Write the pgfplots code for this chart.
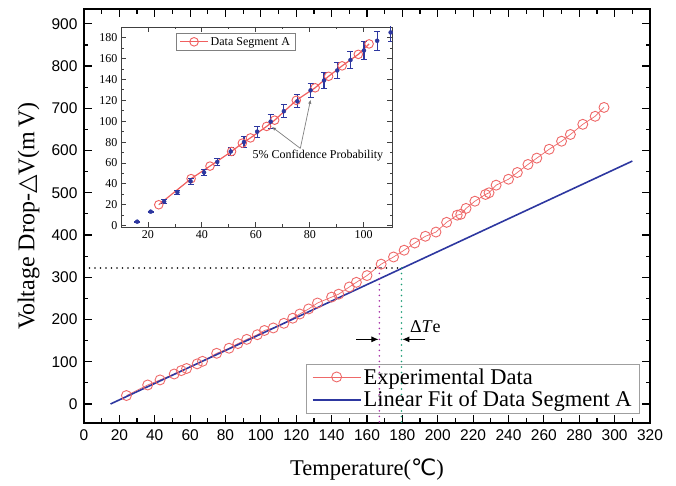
\documentclass[border=0pt]{standalone}
\usepackage{fontspec}
\setmainfont{Liberation Serif}
\newfontfamily\arialfont{Liberation Sans}
\newfontfamily\dejavu{DejaVu Sans}
\usepackage{pgfplots}
\pgfplotsset{compat=1.18}
\usetikzlibrary{arrows.meta}

\definecolor{expred}{RGB}{238,105,105}
\definecolor{fitblue}{RGB}{45,55,160}
\definecolor{dotpurple}{RGB}{165,45,165}
\definecolor{dotteal}{RGB}{25,155,115}

\pgfplotstableread{
x y
24 20
36 45
43 57
51 71
55 79
58 84
64 95
67 101
75 120
82 132
87 143
92 153
98 164
102 174
107 180
113 191
118 203
122 213
127 225
132 239
140 253
144 260
150 277
154 288
160 304
168 331
175 348
181 364
187 381
193 397
199 407
205 430
211 447
213 449
216 463
221 480
227 496
229 500
233 518
240 532
245 548
251 567
256 582
263 603
270 622
275 638
282 662
289 681
294 702
}\expdata

\pgfplotstableread{
x y
24 20
36 45
43 57
51 71
55 79
58 84
64 95
67 101
75 120
82 132
87 143
92 153
98 164
102 174
}\segdata

\pgfplotstableread{
x y e
16 3.8 0.4
21 13.4 0.6
26 23 1.6
30.9 32 2
35.8 42.5 3
40.8 51 3.2
45.7 61 3.5
50.7 71 4
55.6 80 5
60.5 90 5.4
65.5 99.6 6.4
70.4 109.6 6
75.4 119 6.2
80.3 129.5 6.7
85.3 139 7.5
90.2 148.6 7.7
95.1 158.6 8
100.1 167.7 8.5
105 177 9
110 185 9
}\errdata

\begin{document}
\begin{tikzpicture}
\useasboundingbox (-84pt,-63pt) rectangle (592pt,423pt);
\begin{axis}[
  name=main,
  at={(0pt,0pt)}, anchor=south west,
  scale only axis, width=566pt, height=414pt,
  xmin=0, xmax=320, ymin=-45, ymax=935,
  xtick={0,20,...,320}, minor x tick num=1,
  ytick={0,100,...,900}, minor y tick num=1,
  tick align=inside,
  major tick length=8pt, minor tick length=4.5pt,
  axis line style={line width=1.6pt},
  every tick/.style={black, line width=1.2pt},
  tick label style={font=\arialfont\fontsize{15.5}{16}\selectfont},
  /pgf/number format/assume math mode=true,
  /pgf/number format/1000 sep={},
  xticklabel style={yshift=-3pt},
  yticklabel style={xshift=-3pt},
  xlabel={Temperature({\dejavu ℃})},
  ylabel={Voltage Drop-{\dejavu △}V(m\,V)},
  xlabel style={font=\fontsize{22.5}{23}\selectfont, at={(axis description cs:0.5,-0.113)}, anchor=center},
  ylabel style={font=\fontsize{24}{25}\selectfont, at={(axis description cs:-0.098,0.5)}, anchor=center},
  legend style={at={(0.982,0.024)}, anchor=south east, draw=gray!75, fill=none,
    font=\fontsize{22.5}{23}\selectfont, inner xsep=6pt, inner ysep=2.5pt,
    row sep=1.5pt},
  legend cell align=left,
  legend image code/.code={\draw[#1, mark repeat=2, mark phase=2] plot coordinates {(0pt,0pt) (24pt,0pt) (48pt,0pt)};},
]
\addplot[expred, line width=0.7pt, mark=o, mark size=5pt, mark options={line width=0.9pt, fill=white},
  legend image post style={line width=0.8pt}] table[x=x,y=y] {\expdata};
\addlegendentry{Experimental Data}
\addplot[fitblue, line width=1.6pt, legend image post style={line width=1.8pt}] coordinates {(15,0) (310,575)};
\addlegendentry{Linear Fit of Data Segment A}

\draw[black, line width=1.8pt, line cap=round, dash pattern=on 0pt off 5.5pt] (axis cs:0,322) -- (axis cs:179.5,322);
\draw[dotpurple, line width=1.8pt, line cap=round, dash pattern=on 0pt off 5.5pt] (axis cs:167,322) -- (axis cs:167,-45);
\draw[dotteal, line width=1.8pt, line cap=round, dash pattern=on 0pt off 5.5pt] (axis cs:179.5,322) -- (axis cs:179.5,-45);
\draw[-{Latex[length=7pt,width=6pt]}, line width=0.9pt] (axis cs:154,153) -- (axis cs:166.5,153);
\draw[-{Latex[length=7pt,width=6pt]}, line width=0.9pt] (axis cs:193,153) -- (axis cs:180,153);
\node[font=\fontsize{18}{18}\selectfont] at (axis cs:193,184) {Δ\textit{T}e};
\end{axis}

\begin{axis}[
  at={(37pt,196pt)}, anchor=south west,
  scale only axis, width=271pt, height=200pt,
  xmin=10, xmax=110.5, ymin=-1.3, ymax=190.2,
  xtick={20,40,...,100}, minor x tick num=1,
  ytick={0,20,...,180}, minor y tick num=1,
  tick align=inside,
  major tick length=5pt, minor tick length=2.5pt,
  axis line style={black!75, line width=0.9pt},
  every tick/.style={black!75, line width=0.8pt},
  axis background/.style={fill=white},
  tick label style={font=\fontsize{12}{12}\selectfont},
  /pgf/number format/assume math mode=true,
  legend style={at={(0.204,0.968)}, anchor=north west, draw=gray, fill=white,
    font=\fontsize{12}{12}\selectfont, inner xsep=3pt, inner ysep=1.5pt},
  legend image code/.code={\draw[#1, mark repeat=2, mark phase=2] plot coordinates {(0pt,0pt) (14pt,0pt) (28pt,0pt)};},
]
\addplot[expred!90!red, line width=1.2pt, mark=o, mark size=4.3pt, mark options={line width=0.9pt, fill=white},
  legend image post style={line width=1.2pt}] table[x=x,y=y] {\segdata};
\addlegendentry{Data Segment A}
\addplot[fitblue, only marks, mark=none, forget plot,
  error bars/.cd, y dir=both, y explicit,
  error bar style={line width=1.2pt, draw=fitblue},
  error mark options={rotate=90, mark size=3pt, line width=1pt, draw=fitblue}]
  table[x=x,y=y,y error=e] {\errdata};
\draw[gray, line width=0.7pt, -{Latex[length=4pt,width=3.5pt,fill=black]}] (axis cs:76.5,74) -- (axis cs:66,94.5);
\draw[gray, line width=0.7pt, -{Latex[length=4pt,width=3.5pt,fill=black]}] (axis cs:76.5,74) -- (axis cs:80.3,120.5);
\node[font=\fontsize{12}{12}\selectfont] at (axis cs:83,66.7) {5\% Confidence Probability};
\end{axis}
\end{tikzpicture}
\end{document}
